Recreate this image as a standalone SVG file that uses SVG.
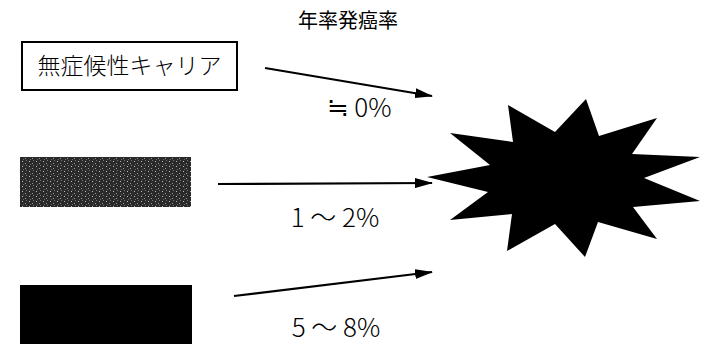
<svg xmlns="http://www.w3.org/2000/svg" width="709" height="344" viewBox="0 0 709 344">
<style>
text{font-family:"Noto Sans CJK JP","Noto Sans",sans-serif;fill:#000}
.lbl{font-size:26px;font-weight:300}
.conn line{stroke:#000;stroke-width:2.2}
</style>
<defs>
<marker id="ah" viewBox="0 0 18 10" refX="17" refY="5" markerWidth="18" markerHeight="10" markerUnits="userSpaceOnUse" orient="auto">
<path d="M0,0 L18,5 L0,10 Z" fill="#000"/>
</marker>
<pattern id="speck" width="7" height="5" patternUnits="userSpaceOnUse">
<rect width="7" height="5" fill="#2a2a2a"/>
<rect x="1" y="1" width="1" height="1" fill="#bbb"/>
<rect x="4" y="3" width="1" height="1" fill="#999"/>
<rect x="5" y="0" width="1" height="1" fill="#777"/>
<rect x="2" y="4" width="1" height="1" fill="#666"/>
</pattern>
</defs>
<rect width="709" height="344" fill="#fff"/>
<g id="title"><text x="298" y="28" style="font-size:20px">年率発癌率</text></g>
<g id="node-carrier">
<rect x="22" y="42" width="215" height="48" fill="#fff" stroke="#000" stroke-width="2"/>
<text x="129.5" y="74" text-anchor="middle" style="font-size:23px;font-weight:300">無症候性キャリア</text>
</g>
<g id="node-gray"><rect x="20" y="157" width="171" height="50" fill="url(#speck)"/></g>
<g id="node-black"><rect x="20" y="285" width="172" height="60" fill="#000"/></g>
<g id="node-cancer">
<polygon fill="#000" points="508,105 555,132 586,99 599,136 657,118 632,154 700,157 644,178 700,201 633,207 657,239 598,222 585,257 555,224 507,251 512,214 450,220 488,192 427,177 490,165 450,133 513,142"/>
</g>
<g class="conn" id="connectors">
<line x1="265" y1="68" x2="432" y2="96" marker-end="url(#ah)"/>
<line x1="218" y1="184" x2="432" y2="183" marker-end="url(#ah)"/>
<line x1="234" y1="296" x2="432" y2="272" marker-end="url(#ah)"/>
</g>
<g id="labels">
<text class="lbl" x="359" y="117" text-anchor="middle">≒ 0%</text>
<text class="lbl" x="335" y="227" text-anchor="middle">1 ～ 2%</text>
<text class="lbl" x="336" y="337" text-anchor="middle">5 ～ 8%</text>
</g>
</svg>
